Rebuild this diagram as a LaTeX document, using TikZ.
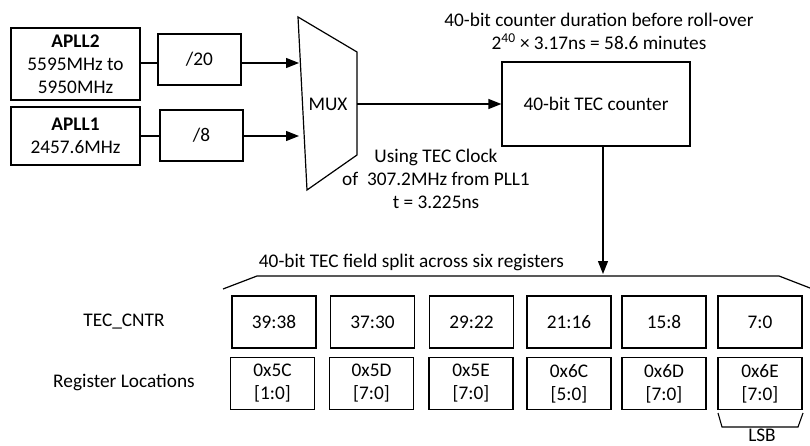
\documentclass[tikz,border=0pt]{standalone}
\usepackage{fontspec}
\setmainfont{Carlito}
\usetikzlibrary{arrows.meta}
\begin{document}
\begin{tikzpicture}[x=1pt,y=-1pt,
  every node/.style={font=\fontsize{19.3}{23}\selectfont, inner sep=0pt, align=center},
  box/.style={draw, line width=1.2pt},
  ln/.style={line width=1.3pt},
  arr/.style={line width=1.3pt, -{Triangle[length=13pt,width=10pt]}},
  regbox/.style={box, minimum width=84pt, minimum height=52pt}]
\fill[white] (0,0) rectangle (810,446);
\useasboundingbox (0,0) rectangle (810,446);

% sources
\node[box, minimum width=129pt, minimum height=72pt] (apll2) at (75.5,64) {\textbf{APLL2}\\5595MHz to\\5950MHz};
\node[box, minimum width=129pt, minimum height=58pt] (apll1) at (75.5,136) {\textbf{APLL1}\\2457.6MHz};
\node[box, minimum width=83pt, minimum height=51pt] (d20) at (199.5,59.5) {/20};
\node[box, minimum width=83pt, minimum height=51pt] (d8) at (201.5,135.5) {/8};

% MUX
\coordinate (m1) at (298,17);
\coordinate (m2) at (357,52);
\coordinate (m3) at (357,155);
\coordinate (m4) at (307,190);
\draw[line width=1.2pt] (m1) -- (m2) -- (m3) -- (m4) -- cycle;
\node (mux) at (328,104) {MUX};
\coordinate (in1) at (299,63);
\coordinate (in2) at (299,136);
\coordinate (mo) at (357,104);

\draw[ln] (apll2.east |- in1) -- (d20.west |- in1);
\draw[arr] (d20.east |- in1) -- (in1);
\draw[ln] (apll1.east |- in2) -- (d8.west |- in2);
\draw[arr] (d8.east |- in2) -- (in2);

% counter
\node[box, minimum width=188pt, minimum height=84pt] (tec) at (596,104) {40-bit TEC counter};
\draw[arr] (mo) -- (tec.west);
\node (dur) at (599,31.5) {40-bit counter duration before roll-over\\2\textsuperscript{40} × 3.17ns = 58.6 minutes};
\node (clk) at (436,179) {Using TEC Clock\\of\ \ 307.2MHz from PLL1\\t = 3.225ns};

\coordinate (bt) at (603,274);
\draw[arr] (tec.south -| bt) -- (bt);

% field bracket
\draw[line width=1.2pt] (223,289) -- (257,276) -- (779,276) -- (810,288);
\node (field) at (411.5,262) {40-bit TEC field split across six registers};

% labels
\node (tcl) at (124,322) {TEC\_CNTR};
\node (rl) at (124,382) {Register Locations};

% registers
\node[regbox] (r1) at (274,322) {39:38};
\node[regbox] (r2) at (372.5,322) {37:30};
\node[regbox] (r3) at (471.5,322) {29:22};
\node[regbox] (r4) at (569,322) {21:16};
\node[regbox] (r5) at (664,322) {15:8};
\node[regbox] (r6) at (760,322) {7:0};

\node[regbox] (l1) at (272.5,383.5) {0x5C\\{[1:0]}};
\node[regbox] (l2) at (371.5,383.5) {0x5D\\{[7:0]}};
\node[regbox] (l3) at (471,383.5) {0x5E\\{[7:0]}};
\node[regbox] (l4) at (569,383.5) {0x6C\\{[5:0]}};
\node[regbox] (l5) at (664,383.5) {0x6D\\{[7:0]}};
\node[regbox] (l6) at (760,383.5) {0x6E\\{[7:0]}};

% LSB bracket
\draw[line width=1.1pt] (718,413) -- (722,427) -- (798,427) -- (803,413);
\node[align=none] (lsb) at (762,435) {LSB};
\end{tikzpicture}
\end{document}
